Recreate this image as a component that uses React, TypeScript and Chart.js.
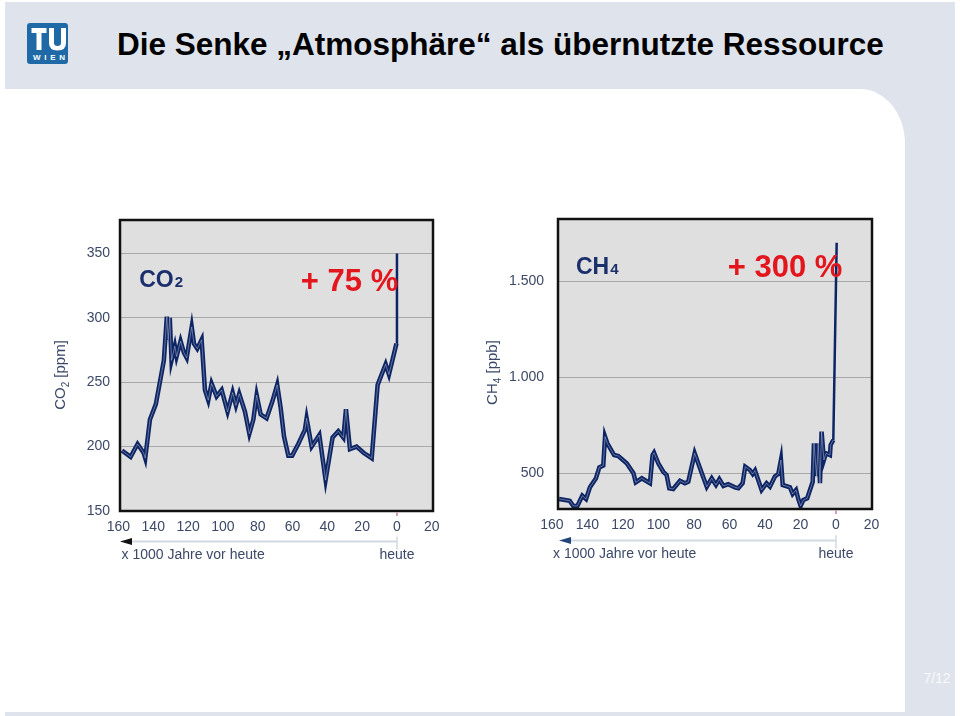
import React, { useEffect, useRef } from "react";
import { Chart, registerables } from "chart.js";

Chart.register(...registerables);

const FONT = '"Liberation Sans", Arial, Helvetica, sans-serif';
const TICK_COLOR = "#3b4866";
const LINE_COLOR = "#0e2565";
const LABEL_COLOR = "#1a2f6b";
const RED = "#e3161e";

// shared x axis (x 1000 years before present; right side = future)
const xTickValues = [160, 140, 120, 100, 80, 60, 40, 20, 0, -20];
const xTickLabels = ["160", "140", "120", "100", "80", "60", "40", "20", "0", "20"];

// CO2 (ppm)
const co2Ages = [158, 153, 149, 145.5, 144.6, 141.9, 138.5, 133.9, 132.2, 131.4, 130.5, 129.5, 127.6, 126.6, 124.3, 122.4, 120.8, 117.9, 116.6, 114.7, 112.2, 110.3, 108.4, 106.5, 103.6, 100.7, 97.3, 94.4, 92.5, 90.6, 87.3, 84.8, 82.5, 80.6, 78.3, 74.9, 71.6, 68.8, 66.8, 64.9, 62.4, 60.2, 56.7, 52.9, 51.9, 49, 44.6, 41, 37, 33.7, 30.8, 29.3, 27, 23.2, 19, 14.5, 11.1, 6.5, 4.6, 0.3, 0];
const co2Values = [197, 192, 202, 195, 191, 221, 233, 267, 301, 283, 300, 267, 278, 270, 282, 273, 269, 293, 280, 276, 283, 244, 236, 249, 239, 244, 227, 242, 232, 241, 227, 210, 221, 240, 225, 222, 235, 248, 230, 208, 193, 193, 202, 213, 222, 200, 209, 174, 207, 212, 207, 229, 198, 200, 195, 191, 248, 264, 256, 280, 350];
const co2TickValues = [150, 200, 250, 300, 350];
const co2TickLabels = ["150", "200", "250", "300", "350"];

// CH4 (ppb)
const ch4Ages = [156, 150, 148, 145.7, 142.9, 140.8, 138.6, 135.2, 133.3, 131.1, 130.1, 128.8, 125, 122.6, 117.9, 114.1, 112.8, 109.4, 104.8, 103.3, 102.5, 100.1, 97.3, 95.4, 93.9, 91.7, 87.9, 85.1, 83.2, 79.6, 76.6, 72.8, 70, 67.6, 65.7, 63.4, 60.7, 56.9, 55, 52.6, 51.1, 48.5, 46.9, 45.6, 41.9, 39.1, 37.2, 34.4, 32.5, 31, 30, 25.9, 24.4, 22.5, 21.2, 19.9, 18.4, 16.2, 13.1, 12.4, 10.9, 10, 9, 8.1, 6.8, 5.6, 3.4, 3, 1.5, -0.4];
const ch4Values = [366, 357, 330, 330, 383, 366, 427, 474, 531, 540, 691, 656, 595, 590, 552, 500, 453, 474, 448, 595, 607, 552, 508, 491, 422, 418, 461, 448, 456, 604, 526, 430, 474, 439, 469, 434, 443, 427, 422, 448, 534, 517, 496, 514, 413, 448, 430, 483, 496, 569, 439, 427, 392, 413, 365, 330, 361, 370, 456, 656, 485, 656, 448, 717, 569, 604, 595, 647, 673, 1700];
const ch4TickValues = [500, 1000, 1500];
const ch4TickLabels = ["500", "1.000", "1.500"];

const AXIS_NOTE = "x 1000 Jahre vor heute";
const TODAY = "heute";

function buildConfig(p: any) {
  const points = p.ages.map((a: number, i: number) => ({ x: a, y: p.values[i] }));
  const last = points.length - 1;

  const deco = {
    id: "deco",
    beforeDraw(chart: any) {
      const { ctx, chartArea: a } = chart;
      ctx.save();
      ctx.fillStyle = "#dfdfdf";
      ctx.fillRect(a.left, a.top, a.right - a.left, a.bottom - a.top);
      ctx.restore();
    },
    afterDraw(chart: any) {
      const { ctx, chartArea: a, scales } = chart;
      const xs = scales.x;
      const ys = scales.y;
      ctx.save();
      // frame
      ctx.strokeStyle = "#111";
      ctx.lineWidth = 2.5;
      ctx.strokeRect(a.left, a.top, a.right - a.left, a.bottom - a.top);

      const x0 = xs.getPixelForValue(0);
      // small tick at 0
      ctx.strokeStyle = "#c77aa0";
      ctx.lineWidth = 1.5;
      ctx.beginPath();
      ctx.moveTo(x0, a.bottom + 1.5);
      ctx.lineTo(x0, a.bottom + 5);
      ctx.stroke();

      // time arrow
      const ay = a.bottom + p.arrowDy;
      ctx.strokeStyle = "#d3d9e2";
      ctx.lineWidth = 2;
      ctx.beginPath();
      ctx.moveTo(x0, ay);
      ctx.lineTo(a.left + p.arrowTip + 10, ay);
      ctx.stroke();
      ctx.lineWidth = 1.5;
      ctx.beginPath();
      ctx.moveTo(x0, ay - 5);
      ctx.lineTo(x0, ay + 8);
      ctx.stroke();
      ctx.fillStyle = p.arrowColor;
      ctx.beginPath();
      ctx.moveTo(a.left + p.arrowTip, ay);
      ctx.lineTo(a.left + p.arrowTip + 12, ay - 3.5);
      ctx.lineTo(a.left + p.arrowTip + 12, ay + 3.5);
      ctx.closePath();
      ctx.fill();

      ctx.font = `14px ${FONT}`;
      ctx.fillStyle = TICK_COLOR;
      ctx.textBaseline = "alphabetic";
      ctx.textAlign = "left";
      ctx.fillText(AXIS_NOTE, a.left + p.noteDx, a.bottom + p.noteDy);
      ctx.textAlign = "center";
      ctx.fillText(TODAY, x0, a.bottom + p.noteDy);

      // series name label
      ctx.textAlign = "left";
      const lx = xs.getPixelForValue(p.label.x);
      const ly = ys.getPixelForValue(p.label.y);
      ctx.fillStyle = LABEL_COLOR;
      ctx.font = `bold 23px ${FONT}`;
      ctx.fillText(p.label.main, lx, ly);
      const mw = ctx.measureText(p.label.main).width;
      ctx.font = `bold 15px ${FONT}`;
      ctx.fillText(p.label.sub, lx + mw + 1, ly);

      // percentage
      ctx.fillStyle = RED;
      ctx.font = `bold 31px ${FONT}`;
      ctx.fillText(p.pct.text, xs.getPixelForValue(p.pct.x), ys.getPixelForValue(p.pct.y));

      // y axis title with subscript
      ctx.fillStyle = TICK_COLOR;
      ctx.font = `15px ${FONT}`;
      const w1 = ctx.measureText(p.yTitle.main).width;
      const w3 = ctx.measureText(p.yTitle.rest).width;
      ctx.font = `10px ${FONT}`;
      const w2 = ctx.measureText(p.yTitle.sub).width;
      const total = w1 + w2 + w3;
      ctx.translate(a.left - p.yTitle.dx, (a.top + a.bottom) / 2 + p.yTitle.dy);
      ctx.rotate(-Math.PI / 2);
      ctx.textAlign = "left";
      let u = -total / 2;
      ctx.font = `15px ${FONT}`;
      ctx.fillText(p.yTitle.main, u, 0);
      u += w1;
      ctx.font = `10px ${FONT}`;
      ctx.fillText(p.yTitle.sub, u, 4);
      u += w2;
      ctx.font = `15px ${FONT}`;
      ctx.fillText(p.yTitle.rest, u, 0);
      ctx.restore();
    },
  };

  return {
    type: "line",
    data: {
      datasets: [
        {
          data: points,
          borderColor: "rgba(255,255,255,0.35)",
          borderWidth: 1,
          pointRadius: 0,
          order: 0,
          segment: { borderColor: (c: any) => (c.p1DataIndex === last ? "rgba(0,0,0,0)" : undefined) },
        },
        {
          data: points,
          borderColor: LINE_COLOR,
          borderWidth: 4.5,
          pointRadius: 0,
          order: 1,
          segment: { borderWidth: (c: any) => (c.p1DataIndex === last ? 2.5 : undefined) },
        },
      ],
    },
    options: {
      responsive: false,
      maintainAspectRatio: false,
      animation: false,
      events: [],
      layout: { padding: { left: 0, right: p.padRight, top: p.padTop, bottom: p.padBottom } },
      plugins: { legend: { display: false }, tooltip: { enabled: false }, title: { display: false } },
      scales: {
        x: {
          type: "linear",
          reverse: true,
          min: p.xMin,
          max: p.xMax,
          afterBuildTicks: (s: any) => {
            s.ticks = xTickValues.map((v) => ({ value: v }));
          },
          afterFit: (s: any) => {
            s.height = 30;
          },
          ticks: {
            callback: (_v: any, i: number) => xTickLabels[i],
            font: { family: FONT, size: 14 },
            color: TICK_COLOR,
            padding: 8,
            maxRotation: 0,
            autoSkip: false,
          },
          grid: { display: false, drawTicks: false },
          border: { display: false },
        },
        y: {
          type: "linear",
          min: p.yMin,
          max: p.yMax,
          afterBuildTicks: (s: any) => {
            s.ticks = p.yTicks.map((v: number) => ({ value: v }));
          },
          afterFit: (s: any) => {
            s.width = p.yAxisWidth;
            s.paddingTop = 0;
            s.paddingBottom = 0;
          },
          ticks: {
            callback: (_v: any, i: number) => p.yLabels[i],
            font: { family: FONT, size: 14 },
            color: TICK_COLOR,
            padding: p.yPad,
          },
          grid: { color: "#a9a9a9", lineWidth: 1, drawTicks: false },
          border: { display: false },
        },
      },
    },
    plugins: [deco],
  };
}

const co2Params = {
  ages: co2Ages,
  values: co2Values,
  xMin: -20.7,
  xMax: 159.1,
  yMin: 150,
  yMax: 376,
  yTicks: co2TickValues,
  yLabels: co2TickLabels,
  yAxisWidth: 80,
  yPad: 10,
  padRight: 27,
  padTop: 20,
  padBottom: 39,
  arrowDy: 30.5,
  arrowTip: 0,
  arrowColor: "#111111",
  noteDx: 1.5,
  noteDy: 48,
  label: { main: "CO", sub: "2", x: 148.1, y: 324 },
  pct: { text: "+ 75 %", x: 55.2, y: 321 },
  yTitle: { main: "CO", sub: "2", rest: " [ppm]", dx: 55, dy: 9.5 },
};

const ch4Params = {
  ages: ch4Ages,
  values: ch4Values,
  xMin: -20.3,
  xMax: 156.6,
  yMin: 314,
  yMax: 1824,
  yTicks: ch4TickValues,
  yLabels: ch4TickLabels,
  yAxisWidth: 88,
  yPad: 14,
  padRight: 18,
  padTop: 19,
  padBottom: 41,
  arrowDy: 31.5,
  arrowTip: 1,
  arrowColor: "#23457a",
  noteDx: -5,
  noteDy: 49,
  label: { main: "CH", sub: "4", x: 146.5, y: 1538 },
  pct: { text: "+ 300 %", x: 61, y: 1522 },
  yTitle: { main: "CH", sub: "4", rest: " [ppb]", dx: 61, dy: 8.5 },
};

function ChartCanvas({ params, left, top }: any) {
  const ref = useRef<HTMLCanvasElement>(null);
  useEffect(() => {
    const chart = new Chart(ref.current as HTMLCanvasElement, buildConfig(params) as any);
    return () => chart.destroy();
  }, [params]);
  return (
    <canvas
      ref={ref}
      width={420}
      height={380}
      style={{ position: "absolute", left, top, width: 420, height: 380 }}
    />
  );
}

export default function App() {
  return (
    <div
      style={{
        position: "absolute",
        left: 0,
        top: 0,
        width: 960,
        height: 716,
        overflow: "hidden",
        background: "#ffffff",
        fontFamily: FONT,
      }}
    >
      <svg width={960} height={716} style={{ position: "absolute", left: 0, top: 0 }}>
        <rect x={5} y={2} width={950} height={714} fill="#dfe4ec" />
        <path d="M5 89 H860 A45 55 0 0 1 905 144 V712 H5 Z" fill="#ffffff" />
        <g transform="translate(27,23)">
          <rect x={0} y={0} width={41} height={41} rx={3} fill="#1f6aa6" />
          <rect x={4.5} y={5} width={15} height={5} fill="#ffffff" />
          <rect x={9.5} y={5} width={5} height={22} fill="#ffffff" />
          <path
            d="M22 5 H27 V20 Q27 23 30.5 23 Q34 23 34 20 V5 H39 V20 Q39 27.5 30.5 27.5 Q22 27.5 22 20 Z"
            fill="#ffffff"
          />
          <text
            x={6}
            y={37}
            fontSize={8}
            fontWeight="bold"
            fill="#ffffff"
            fontFamily={FONT}
            textLength={32}
            lengthAdjust="spacing"
          >
            WIEN
          </text>
        </g>
        <text x={117} y={55} fontSize={31.5} fontWeight="bold" fill="#000000" fontFamily={FONT}>
          Die Senke „Atmosphäre“ als übernutzte Ressource
        </text>
        <text x={937} y={683} fontSize={14} fill="#f7f9fb" textAnchor="middle" fontFamily={FONT}>
          7/12
        </text>
      </svg>
      <ChartCanvas params={co2Params} left={40} top={200} />
      <ChartCanvas params={ch4Params} left={470} top={200} />
    </div>
  );
}
